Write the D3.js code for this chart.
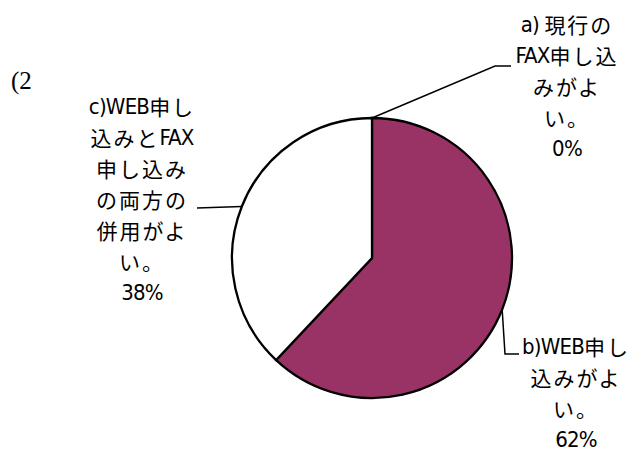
<!DOCTYPE html>
<html><head><meta charset="utf-8">
<script src="https://cdn.jsdelivr.net/npm/d3@7"></script>
<style>body{margin:0;background:#fff}</style>
</head><body>
<script>
const categories = ["a) 現行のFAX申し込みがよい。", "b)WEB申し込みがよい。", "c)WEB申し込みとFAX申し込みの両方の併用がよい。"];
const values = [0, 62, 38];
const labelLines = [
  ["a) 現行の", "FAX申し込", "みがよ", "い。", "0%"],
  ["b)WEB申し", "込みがよ", "い。", "62%"],
  ["c)WEB申し", "込みとFAX", "申し込み", "の両方の", "併用がよ", "い。", "38%"]
];
const colors = ["#ffffff", "#993366", "#ffffff"];
const title = "(2";

const W = 639, H = 450;
const cx = 372, cy = 258, R = 140;
// layout: elbow points and label centers
const layout = [
  {elbow: [[495, 66], [511, 66]], lx: 567, ly: 24},
  {elbow: [[505, 354], [519, 354]], lx: 576, ly: 346},
  {elbow: [[197, 208]], lx: 142, ly: 106}
];
const lineH = 31;

const svg = d3.select("body").append("svg").attr("width", W).attr("height", H);
svg.append("text").attr("x", 11).attr("y", 89)
  .attr("font-family", "'Liberation Serif','DejaVu Serif',serif").attr("font-size", 25)
  .text(title);

const pie = d3.pie().sort(null).value(d => d)(values);
const arc = d3.arc().innerRadius(0).outerRadius(R);
const g = svg.append("g").attr("transform", `translate(${cx},${cy})`);
g.selectAll("path").data(pie).join("path")
  .attr("d", arc).attr("fill", (d, i) => colors[i])
  .attr("stroke", "#000").attr("stroke-width", 2.3).attr("stroke-linejoin", "miter");

pie.forEach((d, i) => {
  const m = (d.startAngle + d.endAngle) / 2;
  const p0 = [cx + R * Math.sin(m), cy - R * Math.cos(m)];
  const pts = [p0, ...layout[i].elbow];
  svg.append("path").attr("d", d3.line()(pts)).attr("fill", "none")
    .attr("stroke", "#000").attr("stroke-width", 1.5);
  const t = svg.append("text")
    .attr("text-anchor", "middle").attr("dominant-baseline", "central").attr("fill", "#000");
  labelLines[i].forEach((s, k) => {
    const line = t.append("tspan").attr("x", layout[i].lx).attr("y", layout[i].ly + k * lineH);
    s.split(/([\x00-\x7F]+)/).filter(r => r.length).forEach(r => {
      const latin = /^[\x00-\x7F]+$/.test(r);
      line.append("tspan")
        .attr("font-family", latin ? "'DejaVu Sans Condensed','Liberation Sans',sans-serif" : "'Noto Sans CJK JP',sans-serif")
        .attr("font-size", latin ? 22 : 21)
        .attr("letter-spacing", latin ? -0.8 : 2)
        .text(r);
    });
  });
});
</script>
</body></html>
